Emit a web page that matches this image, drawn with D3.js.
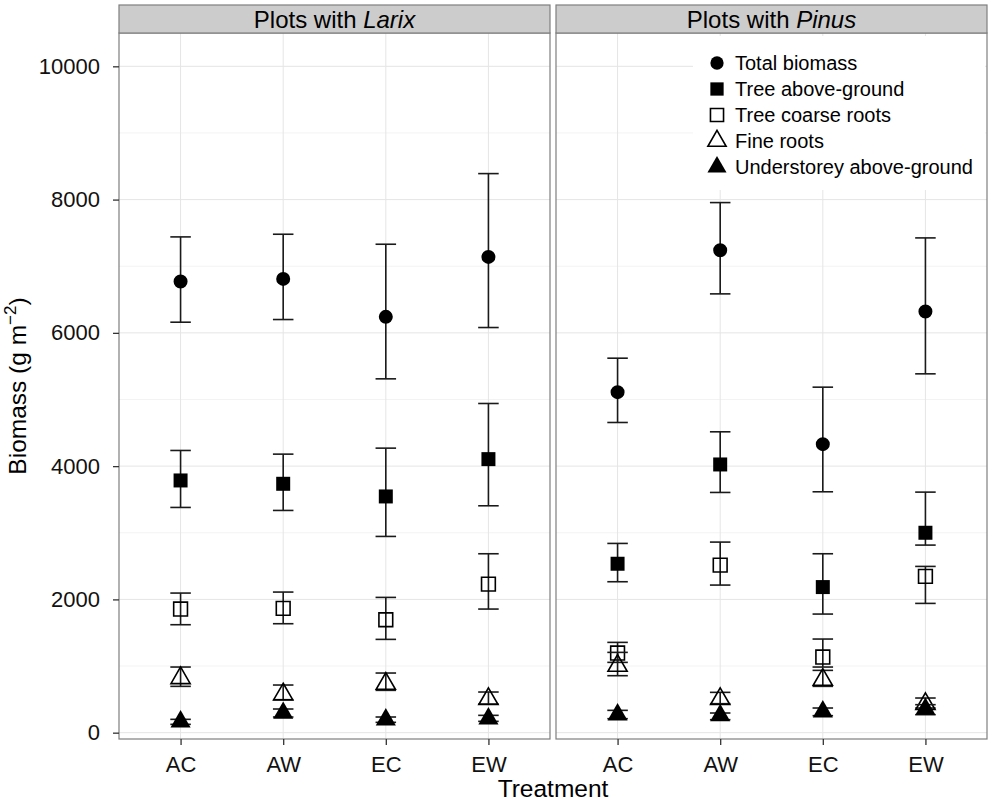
<!DOCTYPE html>
<html>
<head>
<meta charset="utf-8">
<script src="https://cdn.jsdelivr.net/npm/d3@7"></script>
<style>
  body { margin: 0; background: #fff; }
  text { font-family: "Liberation Sans", Arial, Helvetica, sans-serif; }
</style>
</head>
<body>
<div id="wrapper"></div>
<script>
// treatments and panels
const treatments = ["AC", "AW", "EC", "EW"];
const panelNames = ["Larix", "Pinus"];
const components = ["Total biomass", "Tree above-ground", "Tree coarse roots", "Fine roots", "Understorey above-ground"];
const yTicks = [0, 2000, 4000, 6000, 8000, 10000];

// [mean, lower, upper] per treatment (g m-2)
const larixTotal  = [[6770, 6160, 7440], [6810, 6200, 7480], [6240, 5310, 7330], [7140, 6080, 8390]];
const larixAbove  = [[3785, 3380, 4235], [3735, 3335, 4180], [3545, 2945, 4270], [4105, 3405, 4940]];
const larixCoarse = [[1855, 1620, 2095], [1865, 1635, 2110], [1695, 1400, 2030], [2230, 1855, 2685]];
const larixFine   = [[820, 695, 985], [575, 495, 715], [735, 635, 895], [505, 430, 610]];
const larixUnder  = [[165, 125, 200], [295, 235, 355], [195, 155, 235], [210, 170, 260]];

const pinusTotal  = [[5110, 4655, 5620], [7240, 6585, 7955], [4330, 3615, 5185], [6320, 5385, 7425]];
const pinusAbove  = [[2535, 2265, 2840], [4025, 3605, 4515], [2185, 1780, 2685], [3000, 2815, 3610]];
const pinusCoarse = [[1195, 1055, 1355], [2515, 2215, 2860], [1135, 985, 1405], [2345, 1940, 2495]];
const pinusFine   = [[1005, 855, 1205], [505, 435, 605], [795, 695, 935], [430, 370, 520]];
const pinusUnder  = [[270, 210, 335], [260, 195, 295], [315, 255, 370], [355, 270, 420]];

const panelData = [
    [larixTotal, larixAbove, larixCoarse, larixFine, larixUnder],
    [pinusTotal, pinusAbove, pinusCoarse, pinusFine, pinusUnder]
];

// marker style per component
const shapes = [
    { type: d3.symbolCircle,   size: 154, fill: "#000", stroke: "none" },
    { type: d3.symbolSquare,   size: 196, fill: "#000", stroke: "none" },
    { type: d3.symbolSquare,   size: 190, fill: "none", stroke: "#000" },
    { type: d3.symbolTriangle, size: 160, fill: "none", stroke: "#000" },
    { type: d3.symbolTriangle, size: 175, fill: "#000", stroke: "none" }
];

const width = 988;
const height = 801;
const panelX = [[119, 550], [556, 987]];
const stripTop = 5, plotTop = 33, plotBottom = 739;

const svg = d3.select("#wrapper")
    .append("svg")
    .attr("width", width)
    .attr("height", height);

svg.append("rect").attr("width", width).attr("height", height).attr("fill", "#fff");

const y = d3.scaleLinear().domain([-95, 10500]).range([plotBottom, plotTop]);
const minorTicks = d3.range(1000, 10001, 2000);

panelNames.forEach(function (name, p) {
    const x = d3.scalePoint().domain(treatments).range(panelX[p]).padding(0.6);
    const left = panelX[p][0], right = panelX[p][1];
    const g = svg.append("g");

    // grid
    g.selectAll(".minor").data(minorTicks).enter().append("line")
        .attr("x1", left).attr("x2", right)
        .attr("y1", d => y(d)).attr("y2", d => y(d))
        .attr("stroke", "#f3f3f3").attr("stroke-width", 1);
    g.selectAll(".major").data(yTicks).enter().append("line")
        .attr("x1", left).attr("x2", right)
        .attr("y1", d => y(d)).attr("y2", d => y(d))
        .attr("stroke", "#e5e5e5").attr("stroke-width", 1);
    g.selectAll(".vgrid").data(treatments).enter().append("line")
        .attr("x1", d => x(d)).attr("x2", d => x(d))
        .attr("y1", plotTop).attr("y2", plotBottom)
        .attr("stroke", "#e5e5e5").attr("stroke-width", 1);

    // legend background sits over the grid in the right panel
    if (p === 1) {
        g.append("rect")
            .attr("x", 693).attr("y", 36).attr("width", 292).attr("height", 154)
            .attr("fill", "#fff");
    }

    // error bars then points, one layer per component
    const capHalf = x.step() * 0.1;
    panelData[p].forEach(function (series, s) {
        const layer = g.append("g");
        const bars = layer.selectAll(".bar").data(series).enter().append("g")
            .attr("stroke", "#1a1a1a").attr("stroke-width", 1.6);
        bars.append("line")
            .attr("x1", (d, i) => x(treatments[i])).attr("x2", (d, i) => x(treatments[i]))
            .attr("y1", d => y(d[1])).attr("y2", d => y(d[2]));
        bars.append("line")
            .attr("x1", (d, i) => x(treatments[i]) - capHalf).attr("x2", (d, i) => x(treatments[i]) + capHalf)
            .attr("y1", d => y(d[1])).attr("y2", d => y(d[1]));
        bars.append("line")
            .attr("x1", (d, i) => x(treatments[i]) - capHalf).attr("x2", (d, i) => x(treatments[i]) + capHalf)
            .attr("y1", d => y(d[2])).attr("y2", d => y(d[2]));

        const sh = shapes[s];
        layer.selectAll(".pt").data(series).enter().append("path")
            .attr("d", d3.symbol().type(sh.type).size(sh.size))
            .attr("transform", (d, i) => "translate(" + x(treatments[i]) + "," + y(d[0]) + ")")
            .attr("fill", sh.fill)
            .attr("stroke", sh.stroke)
            .attr("stroke-width", 1.6);
    });

    // panel border
    g.append("rect")
        .attr("x", left).attr("y", plotTop)
        .attr("width", right - left).attr("height", plotBottom - plotTop)
        .attr("fill", "none").attr("stroke", "#7f7f7f").attr("stroke-width", 1.2);

    // strip
    g.append("rect")
        .attr("x", left).attr("y", stripTop)
        .attr("width", right - left).attr("height", plotTop - stripTop)
        .attr("fill", "#cccccc").attr("stroke", "#7f7f7f").attr("stroke-width", 1.2);
    const strip = g.append("text")
        .attr("x", (left + right) / 2).attr("y", 28)
        .attr("text-anchor", "middle")
        .style("font-size", "24px").attr("fill", "#000");
    strip.append("tspan").text("Plots with ");
    strip.append("tspan").style("font-style", "italic").text(name);

    // x axis
    const xAxis = g.append("g")
        .attr("transform", "translate(0," + plotBottom + ")")
        .call(d3.axisBottom(x).tickSize(6).tickPadding(5));
    xAxis.select(".domain").remove();
    xAxis.selectAll(".tick line").attr("stroke", "#333").attr("stroke-width", 1.3);
    xAxis.selectAll(".tick text")
        .style("font-size", "22px").attr("fill", "#111")
        .attr("y", 0).attr("dy", null)
        .attr("transform", "translate(0,33)");

    if (p === 0) {
        const yAxis = g.append("g")
            .attr("transform", "translate(" + left + ",0)")
            .call(d3.axisLeft(y).tickValues(yTicks).tickSize(6).tickPadding(6).tickFormat(d3.format("d")));
        yAxis.select(".domain").remove();
        yAxis.selectAll(".tick line").attr("stroke", "#333").attr("stroke-width", 1.3);
        yAxis.selectAll(".tick text")
            .style("font-size", "22px").attr("fill", "#111")
            .attr("x", -19);
    }
});

// legend
const legend = svg.append("g");
components.forEach(function (c, i) {
    const cy = 63 + i * 26;
    const sh = shapes[i];
    legend.append("path")
        .attr("d", d3.symbol().type(sh.type).size(sh.size * 0.9))
        .attr("transform", "translate(717," + cy + ")")
        .attr("fill", sh.fill)
        .attr("stroke", sh.stroke)
        .attr("stroke-width", 1.6);
    legend.append("text")
        .attr("x", 735).attr("y", cy + 7)
        .style("font-size", "20px").attr("fill", "#000")
        .text(c);
});

// axis titles
svg.append("text")
    .attr("x", 553).attr("y", 797)
    .attr("text-anchor", "middle")
    .style("font-size", "24.5px").attr("fill", "#000")
    .text("Treatment");

const yTitle = svg.append("text")
    .attr("transform", "translate(26," + ((plotTop + plotBottom) / 2) + ") rotate(-90)")
    .attr("text-anchor", "middle")
    .style("font-size", "24.5px").attr("fill", "#000");
yTitle.append("tspan").text("Biomass (g m");
yTitle.append("tspan").attr("dy", -10).style("font-size", "17px").text("\u22122");
yTitle.append("tspan").attr("dy", 10).text(")");
</script>
</body>
</html>
